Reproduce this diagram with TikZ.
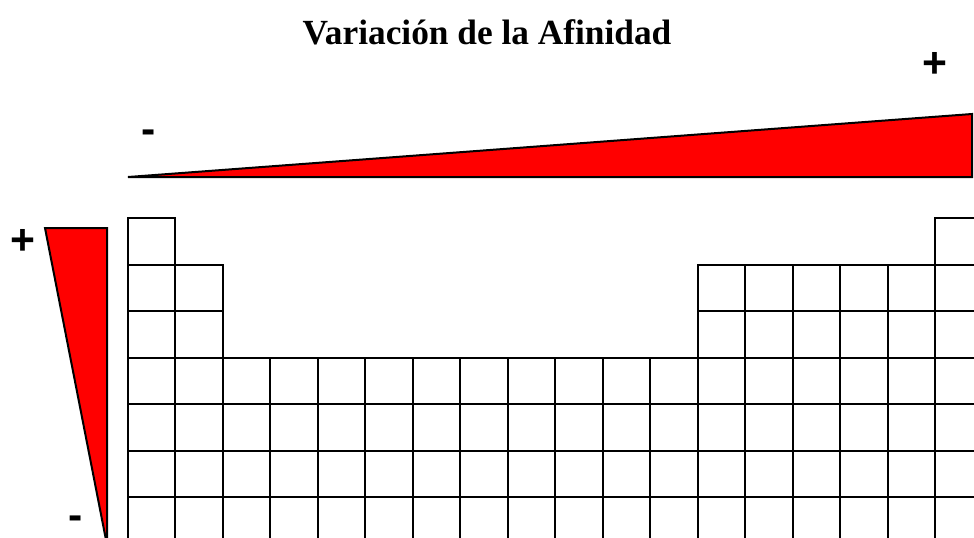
\documentclass[tikz,border=0pt]{standalone}
\usepackage{fontspec}
\setmainfont{Liberation Serif}
\setsansfont{Liberation Sans}

\begin{document}
\begin{tikzpicture}[
    x=0.75pt, y=-0.75pt,
    cell/.style={draw, line width=1.5pt},
    wedge/.style={draw, line width=1.5pt, fill=red, line join=miter},
    sign/.style={font=\sffamily\bfseries\fontsize{32}{32}\selectfont, inner sep=0pt},
    title/.style={font=\bfseries\fontsize{26.5}{30}\selectfont, inner sep=0pt}
]
\useasboundingbox (0,0) rectangle (974,537);
\clip (0,0) rectangle (974,537);

\node[title] (titulo) at (487,32) {Variación de la Afinidad};

% cuñas
\draw[wedge] (128,177) -- (972,177) -- (972,114) -- cycle;
\draw[wedge] (45,228) -- (107,228) -- (107,545) -- cycle;

\node[sign] (masarriba) at (935,65) {+};
\node[sign] (menosarriba) at (149,137) {-};
\node[sign] (masizq) at (23,242) {+};
\node[sign] (menosizq) at (76,523) {-};

% tabla
\foreach \c in {0,17}
  \draw[cell] (128+47.47*\c,218) rectangle ++(47.47,46.5);
\foreach \r in {1,2}
  \foreach \c in {0,1,12,13,14,15,16,17}
    \draw[cell] (128+47.47*\c,218+46.5*\r) rectangle ++(47.47,46.5);
\foreach \r in {3,...,6}
  \foreach \c in {0,...,17}
    \draw[cell] (128+47.47*\c,218+46.5*\r) rectangle ++(47.47,46.5);

\end{tikzpicture}
\end{document}
